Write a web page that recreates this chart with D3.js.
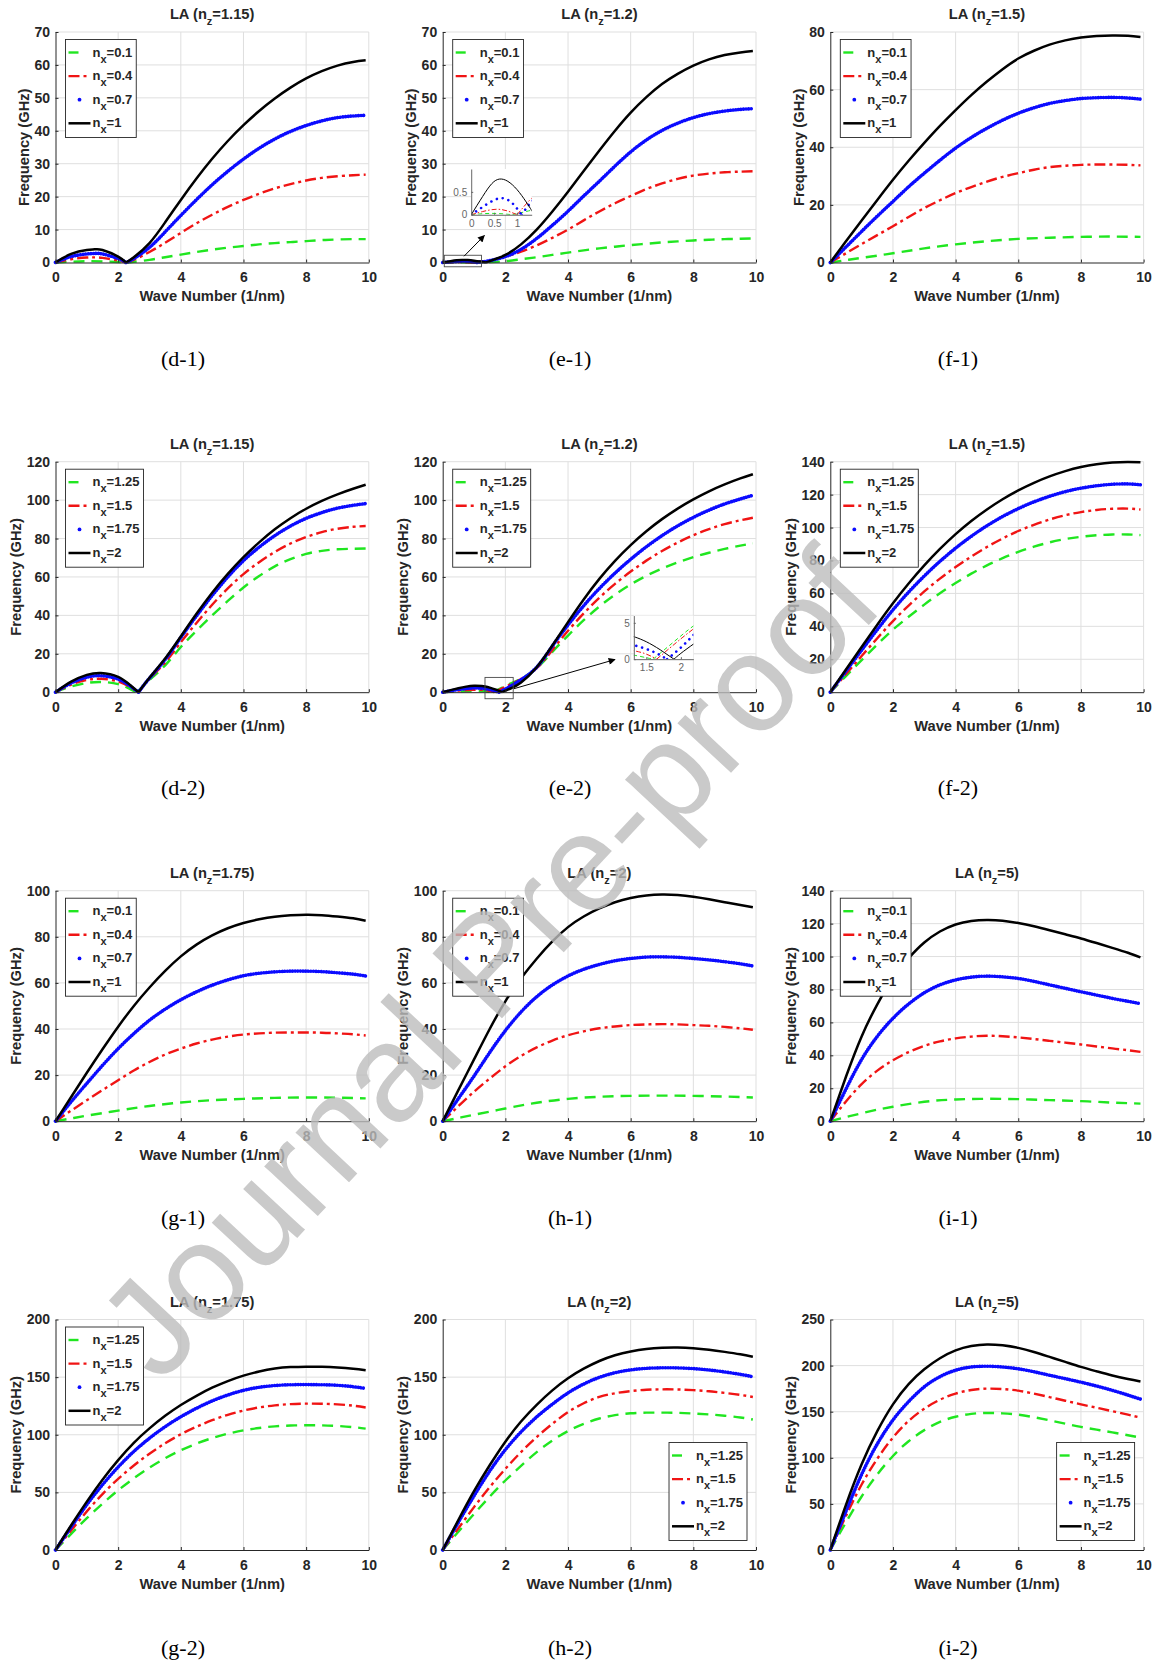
<!DOCTYPE html>
<html>
<head>
<meta charset="utf-8">
<script src="https://cdn.jsdelivr.net/npm/d3@7"></script>
<style>
  body { margin: 0; background: #fff; }
  svg { display: block; }
</style>
</head>
<body>
<script>
// ---------- tick labels ----------
const kTicks = [0, 2, 4, 6, 8, 10];
const fTicks70 = [0, 10, 20, 30, 40, 50, 60, 70];
const fTicks80 = [0, 20, 40, 60, 80];
const fTicks100 = [0, 20, 40, 60, 80, 100];
const fTicks120 = [0, 20, 40, 60, 80, 100, 120];
const fTicks140 = [0, 20, 40, 60, 80, 100, 120, 140];
const fTicks200 = [0, 50, 100, 150, 200];
const fTicks250 = [0, 50, 100, 150, 200, 250];

// ---------- legend categories ----------
const nxLow = ['0.1', '0.4', '0.7', '1'];
const nxHigh = ['1.25', '1.5', '1.75', '2'];

// ---------- LA branch, [wave number (1/nm), frequency (GHz)] ----------
// (d-1) nz = 1.15
const d1_01 = [[0,0],[0.5,0.25],[1,0.4],[1.5,0.35],[2,0.15],[2.25,0],[2.5,0.2],[3,0.8],[3.5,1.6],[4,2.4],[4.5,3.2],[5,3.9],[5.5,4.5],[6,5.0],[6.5,5.5],[7,5.9],[7.5,6.2],[8,6.5],[8.5,6.8],[9,7.0],[9.5,7.1],[9.9,7.1]];
const d1_04 = [[0,0],[0.5,1.0],[1,1.5],[1.25,1.55],[1.5,1.4],[2,0.6],[2.25,0],[2.5,0.8],[3,3.2],[3.5,6],[4,9],[4.5,11.9],[5,14.5],[5.5,16.9],[6,19.0],[6.5,20.9],[7,22.5],[7.5,23.8],[8,24.9],[8.5,25.7],[9,26.2],[9.5,26.5],[9.9,26.7]];
const d1_07 = [[0,0],[0.5,1.8],[1,2.6],[1.25,2.75],[1.5,2.6],[2,1.2],[2.25,0],[2.5,1.2],[3,4.6],[3.5,9.3],[4,14.3],[4.5,19.1],[5,23.6],[5.5,27.7],[6,31.4],[6.5,34.7],[7,37.5],[7.5,39.8],[8,41.6],[8.5,43],[9,44],[9.5,44.5],[9.9,44.7]];
const d1_10 = [[0,0],[0.5,2.6],[1,3.8],[1.25,4.0],[1.5,3.8],[2,1.8],[2.25,0],[2.5,1.6],[3,5.9],[3.5,12.2],[4,19],[4.5,25.5],[5,31.5],[5.5,36.9],[6,41.7],[6.5,46],[7,49.8],[7.5,53.1],[8,55.9],[8.5,58.1],[9,59.8],[9.5,60.9],[9.9,61.4]];

// (e-1) nz = 1.2
const e1_01 = [[0,0],[0.45,0.03],[0.9,0],[1.32,0.1],[1.5,0.15],[2,0.4],[2.5,1],[3,1.6],[3.5,2.3],[4,3],[4.5,3.7],[5,4.3],[5.5,4.8],[6,5.3],[6.5,5.7],[7,6.1],[7.5,6.4],[8,6.7],[8.5,6.9],[9,7.1],[9.5,7.2],[9.9,7.3]];
const e1_04 = [[0,0],[0.25,0.07],[0.55,0.12],[0.8,0.08],[1.0,0],[1.32,0.36],[1.5,0.6],[2,1.8],[2.5,3.3],[3,5.2],[3.5,7.5],[4,10],[4.5,12.8],[5,15.5],[5.5,18],[6,20.2],[6.5,22.3],[7,24],[7.5,25.4],[8,26.4],[8.5,27],[9,27.4],[9.5,27.6],[9.9,27.7]];
const e1_07 = [[0,0],[0.25,0.17],[0.5,0.32],[0.7,0.36],[0.9,0.25],[1.1,0],[1.32,0.29],[1.5,0.55],[2,1.8],[2.5,4],[3,7.3],[3.5,11.3],[4,15.6],[4.5,20.2],[5,24.7],[5.5,29.3],[6,33.6],[6.5,37.2],[7,40.1],[7.5,42.3],[8,44],[8.5,45.2],[9,46],[9.5,46.5],[9.9,46.7]];
const e1_10 = [[0,0],[0.25,0.4],[0.45,0.68],[0.62,0.78],[0.8,0.73],[1.0,0.55],[1.2,0.28],[1.38,0],[1.5,0.4],[2,2.3],[2.5,5.5],[3,10],[3.5,15.5],[4,21.5],[4.5,27.8],[5,34],[5.5,40],[6,45.5],[6.5,50.2],[7,54.2],[7.5,57.3],[8,59.8],[8.5,61.7],[9,63],[9.5,63.8],[9.9,64.2]];

// (f-1) nz = 1.5
const f1_01 = [[0,0],[0.5,0.8],[1,1.6],[2,3.2],[3,4.9],[4,6.3],[5,7.4],[6,8.2],[7,8.6],[8,8.9],[9,9.0],[9.9,8.9]];
const f1_04 = [[0,0],[0.5,3.2],[1,6.4],[1.5,9.5],[2,12.6],[2.5,15.8],[3,18.9],[3.5,21.6],[4,24.1],[4.5,26.2],[5,28.1],[5.5,29.7],[6,31],[6.5,32.2],[7,33.1],[7.5,33.6],[8,33.9],[8.5,34],[9,34],[9.5,33.9],[9.9,33.7]];
const f1_07 = [[0,0],[0.5,5.4],[1,10.8],[1.5,16.1],[2,21.2],[2.5,26.3],[3,31],[3.5,35.5],[4,39.7],[4.5,43.4],[5,46.6],[5.5,49.4],[6,51.8],[6.5,53.7],[7,55.2],[7.5,56.2],[8,56.9],[8.5,57.2],[9,57.3],[9.5,57.1],[9.9,56.7]];
const f1_10 = [[0,0],[0.5,7.4],[1,14.6],[1.5,21.7],[2,28.7],[2.5,35.3],[3,41.5],[3.5,47.4],[4,52.9],[4.5,58.1],[5,62.8],[5.5,67.1],[6,70.8],[6.5,73.5],[7,75.6],[7.5,77.1],[8,78.1],[8.5,78.6],[9,78.8],[9.5,78.7],[9.9,78.3]];

// (d-2) nz = 1.15
const d2_125 = [[0,0],[0.5,3],[1,4.8],[1.45,5.3],[2,4.2],[2.4,1.5],[2.6,0],[3,6.3],[3.5,14],[4,23.5],[4.5,32],[5,40],[5.5,47.5],[6,54.5],[6.5,60.5],[7,65.5],[7.5,69.3],[8,72],[8.5,73.6],[9,74.4],[9.5,74.7],[9.9,74.8]];
const d2_150 = [[0,0],[0.5,4],[1,6.4],[1.45,7],[2,5.6],[2.4,2.5],[2.65,0],[3,7],[3.5,15.5],[4,26],[4.5,36],[5,45.5],[5.5,54],[6,61.5],[6.5,67.7],[7,73],[7.5,77.4],[8,80.8],[8.5,83.3],[9,85.1],[9.5,86.1],[9.9,86.5]];
const d2_175 = [[0,0],[0.5,4.8],[1,7.8],[1.45,8.6],[2,6.8],[2.4,3],[2.65,0],[3,7.3],[3.5,17],[4,28.5],[4.5,39.7],[5,50.3],[5.5,60],[6,68.5],[6.5,75.5],[7,81.5],[7.5,86.5],[8,90.5],[8.5,93.5],[9,95.8],[9.5,97.3],[9.9,98.2]];
const d2_200 = [[0,0],[0.5,5.5],[1,9],[1.45,10],[2,8],[2.4,3.5],[2.65,0],[3,7.5],[3.5,17.5],[4,29],[4.5,40.8],[5,51.8],[5.5,61.6],[6,70.3],[6.5,78],[7,84.8],[7.5,90.6],[8,95.5],[8.5,99.6],[9,103],[9.5,105.9],[9.9,108]];

// (e-2) nz = 1.2
const e2_125 = [[0,0],[0.25,0.2],[0.5,0.4],[0.75,0.55],[1.0,0.6],[1.25,0.55],[1.35,0.5],[1.5,0.2],[1.6,0],[2.0,3.2],[2.2,4.7],[2.5,7],[3,12.5],[3.5,21],[4,29.5],[4.5,37.5],[5,44.6],[5.5,50.8],[6,56.1],[6.5,60.6],[7,64.4],[7.5,67.6],[8,70.3],[8.5,72.6],[9,74.6],[9.5,76.3],[9.9,77.5]];
const e2_150 = [[0,0],[0.25,0.4],[0.5,0.8],[0.75,1.1],[1.0,1.3],[1.25,1.2],[1.35,1.1],[1.5,0.7],[1.65,0],[2.0,2.8],[2.2,4.3],[2.5,6.8],[3,12.5],[3.5,22],[4,32],[4.5,41],[5,49.2],[5.5,56.4],[6,62.8],[6.5,68.5],[7,73.5],[7.5,77.9],[8,81.7],[8.5,84.9],[9,87.5],[9.5,89.5],[9.9,90.8]];
const e2_175 = [[0,0],[0.25,0.7],[0.5,1.4],[0.75,1.9],[1.0,2.2],[1.25,2.05],[1.35,1.85],[1.5,1.4],[1.65,0.8],[1.8,0],[2.0,1.6],[2.2,3.5],[2.5,6.5],[3,13],[3.5,24],[4,35],[4.5,45],[5,54],[5.5,62],[6,69.2],[6.5,75.7],[7,81.5],[7.5,86.6],[8,91],[8.5,94.8],[9,98],[9.5,100.6],[9.9,102.5]];
const e2_200 = [[0,0],[0.25,1.1],[0.5,2.1],[0.75,2.9],[1.0,3.3],[1.25,3.2],[1.35,3.0],[1.5,2.4],[1.7,1.3],[1.9,0],[2.0,0.8],[2.2,2.2],[2.5,5],[3,13],[3.5,24.3],[4,36.5],[4.5,48.3],[5,59],[5.5,68.4],[6,76.6],[6.5,83.8],[7,90.1],[7.5,95.6],[8,100.4],[8.5,104.6],[9,108.2],[9.5,111.3],[9.9,113.5]];

// (f-2) nz = 1.5
const f2_125 = [[0,0],[0.5,9.8],[1,19.5],[1.5,29],[2,38],[2.5,45.8],[3,53.2],[3.5,60.1],[4,66.3],[4.5,72],[5,77],[5.5,81.4],[6,85.2],[6.5,88.4],[7,91],[7.5,93],[8,94.4],[8.5,95.3],[9,95.8],[9.5,95.8],[9.9,95.4]];
const f2_150 = [[0,0],[0.5,11],[1,22],[1.5,32.8],[2,43.2],[2.5,52.6],[3,61.2],[3.5,69],[4,76],[4.5,82.4],[5,88.2],[5.5,93.4],[6,97.9],[6.5,101.7],[7,104.9],[7.5,107.5],[8,109.4],[8.5,110.7],[9,111.4],[9.5,111.5],[9.9,111]];
const f2_175 = [[0,0],[0.5,12.8],[1,25.5],[1.5,38],[2,50],[2.5,60.8],[3,70.6],[3.5,79.5],[4,87.5],[4.5,94.7],[5,101.1],[5.5,106.7],[6,111.5],[6.5,115.6],[7,119],[7.5,121.8],[8,123.9],[8.5,125.4],[9,126.3],[9.5,126.5],[9.9,126]];
const f2_200 = [[0,0],[0.5,13.8],[1,27.5],[1.5,41],[2,54],[2.5,66],[3,77],[3.5,87],[4,96],[4.5,104],[5,111],[5.5,117.2],[6,122.6],[6.5,127.2],[7,131.1],[7.5,134.3],[8,136.8],[8.5,138.5],[9,139.5],[9.5,139.8],[9.9,139.6]];

// (g-1) nz = 1.75
const g1_01 = [[0,0],[0.5,1.2],[1,2.4],[2,4.6],[3,6.6],[4,8.1],[5,9.1],[6,9.7],[7,10.1],[8,10.3],[9,10.2],[9.9,9.9]];
const g1_04 = [[0,0],[0.5,4.6],[1,9.1],[1.5,13.5],[2,17.8],[2.5,22],[3,25.7],[3.5,28.9],[4,31.5],[4.5,33.7],[5,35.4],[5.5,36.7],[6,37.6],[6.5,38.1],[7,38.4],[7.5,38.5],[8,38.5],[8.5,38.4],[9,38.1],[9.5,37.7],[9.9,37.2]];
const g1_07 = [[0,0],[0.5,8.4],[1,16.4],[1.5,24.2],[2,31.5],[2.5,38],[3,43.8],[3.5,48.6],[4,52.7],[4.5,56.1],[5,59],[5.5,61.3],[6,63.1],[6.5,64.2],[7,64.8],[7.5,65.1],[8,65.1],[8.5,64.9],[9,64.4],[9.5,63.8],[9.9,63]];
const g1_10 = [[0,0],[0.5,10.5],[1,21],[1.5,31.2],[2,41],[2.5,50],[3,58],[3.5,65.2],[4,71.5],[4.5,76.6],[5,80.6],[5.5,83.7],[6,86],[6.5,87.6],[7,88.7],[7.5,89.3],[8,89.6],[8.5,89.4],[9,88.8],[9.5,88],[9.9,87]];

// (h-1) nz = 2
const h1_01 = [[0,0],[0.5,1.4],[1,2.8],[2,5.5],[3,8],[4,9.7],[5,10.6],[6,11],[7,11.1],[8,11],[9,10.7],[9.9,10.3]];
const h1_04 = [[0,0],[0.5,6.5],[1,12.8],[1.5,18.5],[2,23.8],[2.5,28.3],[3,32],[3.5,35],[4,37.3],[4.5,39],[5,40.3],[5.5,41.1],[6,41.7],[6.5,42],[7,42.1],[7.5,42],[8,41.7],[8.5,41.4],[9,40.9],[9.5,40.3],[9.9,39.7]];
const h1_07 = [[0,0],[0.5,9.8],[1,19.6],[1.5,29.8],[2,39.3],[2.5,47.4],[3,54],[3.5,59.1],[4,63],[4.5,65.9],[5,68],[5.5,69.6],[6,70.6],[6.5,71.2],[7,71.3],[7.5,71.1],[8,70.6],[8.5,70],[9,69.2],[9.5,68.3],[9.9,67.3]];
const h1_10 = [[0,0],[0.5,13.5],[1,26.8],[1.5,40],[2,52],[2.5,62],[3,70.5],[3.5,78],[4,84.2],[4.5,88.8],[5,92.3],[5.5,95],[6,96.8],[6.5,97.9],[7,98.3],[7.5,98.1],[8,97.4],[8.5,96.3],[9,95],[9.5,93.8],[9.9,92.8]];

// (i-1) nz = 5
const i1_01 = [[0,0],[0.5,2.5],[1,4.8],[1.5,7],[2,8.8],[3,11.8],[4,13.2],[5,13.6],[6,13.4],[7,12.8],[8,12.2],[9,11.3],[9.9,10.7]];
const i1_04 = [[0,0],[0.5,12],[1,22.5],[1.5,30.7],[2,37],[2.5,42],[3,45.8],[3.5,48.5],[4,50.3],[4.5,51.4],[5,51.9],[5.5,51.6],[6,50.9],[6.5,49.9],[7,48.8],[7.5,47.7],[8,46.6],[8.5,45.4],[9,44.2],[9.5,43.1],[9.9,42.1]];
const i1_07 = [[0,0],[0.5,19.5],[1,37.5],[1.5,51.5],[2,62.5],[2.5,71.2],[3,78],[3.5,82.8],[4,85.8],[4.5,87.5],[5,88.1],[5.5,87.7],[6,86.7],[6.5,84.9],[7,82.8],[7.5,80.7],[8,78.6],[8.5,76.6],[9,74.6],[9.5,72.8],[9.9,71.4]];
const i1_10 = [[0,0],[0.5,27],[1,51.5],[1.5,71],[2,87],[2.5,99],[3,108.5],[3.5,115.2],[4,119.5],[4.5,121.6],[5,122.2],[5.5,121.8],[6,120.4],[6.5,118.4],[7,116],[7.5,113.5],[8,111],[8.5,108.2],[9,105.3],[9.5,102.3],[9.9,99.5]];

// (g-2) nz = 1.75
const g2_125 = [[0,0],[0.5,14],[1,27.6],[1.5,40.2],[2,51.8],[2.5,62.2],[3,71.5],[3.5,79.6],[4,86.5],[4.5,92.3],[5,97.1],[5.5,100.9],[6,103.8],[6.5,105.9],[7,107.3],[7.5,108],[8,108.2],[8.5,108.1],[9,107.6],[9.5,106.6],[9.9,105.3]];
const g2_150 = [[0,0],[0.5,17],[1,33.5],[1.5,48.5],[2,61.7],[2.5,73.3],[3,83.6],[3.5,92.6],[4,100.4],[4.5,107],[5,112.6],[5.5,117.3],[6,121],[6.5,123.7],[7,125.5],[7.5,126.6],[8,127],[8.5,126.9],[9,126.4],[9.5,125.2],[9.9,123.6]];
const g2_175 = [[0,0],[0.5,20],[1,39.3],[1.5,56.6],[2,72],[2.5,85.5],[3,97],[3.5,107],[4,115.6],[4.5,123],[5,129.3],[5.5,134.5],[6,138.5],[6.5,141.2],[7,142.7],[7.5,143.4],[8,143.5],[8.5,143.4],[9,142.9],[9.5,141.7],[9.9,140.2]];
const g2_200 = [[0,0],[0.5,21.5],[1,42],[1.5,61],[2,78],[2.5,93],[3,105.5],[3.5,116.4],[4,125.8],[4.5,133.8],[5,140.8],[5.5,146.6],[6,151.3],[6.5,154.9],[7,157.4],[7.5,158.7],[8,159.1],[8.5,158.9],[9,158.3],[9.5,157.2],[9.9,155.9]];

// (h-2) nz = 2
const h2_125 = [[0,0],[0.5,15.8],[1,31.3],[1.5,46.3],[2,60.3],[2.5,73],[3,84.9],[3.5,95],[4,103.2],[4.5,109.5],[5,114.1],[5.5,117],[6,118.6],[6.5,119.2],[7,119.2],[7.5,119],[8,118.4],[8.5,117.6],[9,116.5],[9.5,115],[9.9,113.2]];
const h2_150 = [[0,0],[0.5,18.8],[1,37.2],[1.5,54.5],[2,70.4],[2.5,85],[3,98],[3.5,109.5],[4,119.7],[4.5,127.3],[5,132.8],[5.5,136],[6,137.9],[6.5,139],[7,139.4],[7.5,139.3],[8,138.7],[8.5,137.7],[9,136.3],[9.5,134.6],[9.9,132.8]];
const h2_175 = [[0,0],[0.5,24],[1,47],[1.5,68.5],[2,87],[2.5,102.5],[3,115.5],[3.5,126.5],[4,136.3],[4.5,144],[5,149.8],[5.5,153.8],[6,156.3],[6.5,157.6],[7,158.1],[7.5,158],[8,157.4],[8.5,156.2],[9,154.5],[9.5,152.4],[9.9,150.3]];
const h2_200 = [[0,0],[0.5,26],[1,51],[1.5,73.5],[2,94],[2.5,111.5],[3,126],[3.5,138.5],[4,149],[4.5,157.3],[5,164],[5.5,169],[6,172.3],[6.5,174.4],[7,175.4],[7.5,175.6],[8,175],[8.5,173.7],[9,171.9],[9.5,169.8],[9.9,167.7]];

// (i-2) nz = 5
const i2_125 = [[0,0],[0.5,30],[1,58],[1.5,82],[2,102],[2.5,118],[3,130],[3.5,139],[4,144.5],[4.5,147.7],[5,148.6],[5.5,148.2],[6,146.8],[6.5,144],[7,140.6],[7.5,137],[8,133.5],[8.5,130.5],[9,127.6],[9.5,124.5],[9.9,121.8]];
const i2_150 = [[0,0],[0.5,37],[1,71],[1.5,99],[2,122],[2.5,140],[3,153.3],[3.5,163],[4,169.6],[4.5,173.5],[5,175],[5.5,174.6],[6,172.8],[6.5,169.6],[7,165.8],[7.5,161.9],[8,158],[8.5,154.3],[9,150.6],[9.5,146.8],[9.9,143.5]];
const i2_175 = [[0,0],[0.5,42],[1,82],[1.5,115],[2,141],[2.5,161],[3,177],[3.5,188],[4,195],[4.5,198.5],[5,199.3],[5.5,198.5],[6,196.5],[6.5,193.3],[7,189.5],[7.5,185.8],[8,182],[8.5,177.8],[9,173.2],[9.5,168],[9.9,163.6]];
const i2_200 = [[0,0],[0.5,49],[1,93],[1.5,129],[2,158],[2.5,180],[3,196],[3.5,208],[4,216.5],[4.5,221.2],[5,223],[5.5,222],[6,219.2],[6.5,214.7],[7,209.4],[7.5,204],[8,198.6],[8.5,193.8],[9,189.3],[9.5,185.5],[9.9,182.8]];

// ---------- panel set-up ----------
const panels = [
  { tag: '(d-1)', nz: '1.15', yMax: 70,  yTicks: fTicks70,  nx: nxLow,  series: [d1_01, d1_04, d1_07, d1_10], legend: 'nw' },
  { tag: '(e-1)', nz: '1.2',  yMax: 70,  yTicks: fTicks70,  nx: nxLow,  series: [e1_01, e1_04, e1_07, e1_10], legend: 'nw',
    zoom: { box: [0.05, 1.24, -1.3, 2.2], arrow: [0.68, 1.9, 1.33, 8.2], frame: [0.91, 2.84, 14.5, 28.4],
            xlim: [0, 1.32], ylim: [0, 1], xticks: [0, 0.5, 1], yticks: [0, 0.5] } },
  { tag: '(f-1)', nz: '1.5',  yMax: 80,  yTicks: fTicks80,  nx: nxLow,  series: [f1_01, f1_04, f1_07, f1_10], legend: 'nw' },
  { tag: '(d-2)', nz: '1.15', yMax: 120, yTicks: fTicks120, nx: nxHigh, series: [d2_125, d2_150, d2_175, d2_200], legend: 'nw' },
  { tag: '(e-2)', nz: '1.2',  yMax: 120, yTicks: fTicks120, nx: nxHigh, series: [e2_125, e2_150, e2_175, e2_200], legend: 'nw',
    zoom: { box: [1.35, 2.25, -3.4, 7.7], arrow: [2.27, 1.8, 5.5, 17], frame: [6.1, 8.0, 17.2, 39.9],
            xlim: [1.32, 2.18], ylim: [0, 6], xticks: [1.5, 2], yticks: [0, 5] } },
  { tag: '(f-2)', nz: '1.5',  yMax: 140, yTicks: fTicks140, nx: nxHigh, series: [f2_125, f2_150, f2_175, f2_200], legend: 'nw' },
  { tag: '(g-1)', nz: '1.75', yMax: 100, yTicks: fTicks100, nx: nxLow,  series: [g1_01, g1_04, g1_07, g1_10], legend: 'nw' },
  { tag: '(h-1)', nz: '2',    yMax: 100, yTicks: fTicks100, nx: nxLow,  series: [h1_01, h1_04, h1_07, h1_10], legend: 'nw' },
  { tag: '(i-1)', nz: '5',    yMax: 140, yTicks: fTicks140, nx: nxLow,  series: [i1_01, i1_04, i1_07, i1_10], legend: 'nw' },
  { tag: '(g-2)', nz: '1.75', yMax: 200, yTicks: fTicks200, nx: nxHigh, series: [g2_125, g2_150, g2_175, g2_200], legend: 'nw' },
  { tag: '(h-2)', nz: '2',    yMax: 200, yTicks: fTicks200, nx: nxHigh, series: [h2_125, h2_150, h2_175, h2_200], legend: 'se' },
  { tag: '(i-2)', nz: '5',    yMax: 250, yTicks: fTicks250, nx: nxHigh, series: [i2_125, i2_150, i2_175, i2_200], legend: 'se' }
];

// ---------- layout & styles ----------
const colLeft = [55.5, 442.7, 830.3];
const rowTop = [32, 461.7, 890.7, 1319.5];
const plotW = 313.3, plotH = 230.5;
const tagX = [183, 570, 958];
const tagY = [360, 789, 1219, 1649];

const FONT = '"Liberation Sans", Arial, Helvetica, sans-serif';
const SERIF = '"Liberation Serif", "Times New Roman", serif';
const INK = '#262626';
const GRID = '#dfdfdf';
const LABEL_SIZE = 14.7;

const styles = [
  { stroke: '#20e620', width: 2.4, dash: '11,7',     cap: 'butt',  inDash: '4,3',       inWidth: 1 },
  { stroke: '#f01414', width: 2.4, dash: '11,4,3,4', cap: 'butt',  inDash: '5,2,1.5,2', inWidth: 1 },
  { stroke: '#0b0bff', width: 3.6, dash: '0.01,2.6', cap: 'round', inDash: '0.01,6',    inWidth: 2.6 },
  { stroke: '#000000', width: 2.5, dash: null,       cap: 'butt',  inDash: null,        inWidth: 1 }
];

const fmt = d3.format('~g');

const svg = d3.select('body').append('svg')
  .attr('width', 1161).attr('height', 1665)
  .attr('viewBox', '0 0 1161 1665');
svg.append('rect').attr('width', 1161).attr('height', 1665).attr('fill', '#fff');

const defs = svg.append('defs');
defs.append('marker')
  .attr('id', 'arrowHead').attr('viewBox', '0 0 10 10')
  .attr('refX', 9).attr('refY', 5)
  .attr('markerWidth', 9).attr('markerHeight', 7)
  .attr('markerUnits', 'userSpaceOnUse')
  .attr('orient', 'auto')
  .append('path').attr('d', 'M0,0 L10,5 L0,10 Z').attr('fill', '#000');

// split a branch at interior zero crossings so each lobe keeps its sharp cusp
function lobes(pts) {
  const out = [];
  let cur = [pts[0]];
  for (let i = 1; i < pts.length; i++) {
    cur.push(pts[i]);
    if (pts[i][1] === 0 && i < pts.length - 1) { out.push(cur); cur = [pts[i]]; }
  }
  out.push(cur);
  return out;
}

function curvePath(pts, x, y) {
  const line = d3.line().x(d => x(d[0])).y(d => y(d[1])).curve(d3.curveNatural);
  return lobes(pts).map(s => line(s)).join('');
}

// "n" + subscript + rest
function subLabel(textSel, main, sub, rest, subSize, shift) {
  textSel.append('tspan').text(main);
  textSel.append('tspan').attr('dy', shift).attr('font-size', subSize).text(sub);
  textSel.append('tspan').attr('dy', -shift).text(rest);
}

function drawLegend(g, L, T, R, B, labels, pos) {
  const lg = g.append('g');
  const rowGap = 23.6, firstRow = 13;
  let maxW = 0;
  labels.forEach((lab, k) => {
    const cy = firstRow + k * rowGap;
    const st = styles[k];
    if (k === 2) {
      lg.append('circle').attr('cx', 14).attr('cy', cy).attr('r', 1.9).attr('fill', st.stroke);
    } else {
      lg.append('line')
        .attr('x1', 3).attr('x2', 25).attr('y1', cy).attr('y2', cy)
        .attr('stroke', st.stroke).attr('stroke-width', st.width)
        .attr('stroke-dasharray', k === 0 ? '10,20' : st.dash);
    }
    const t = lg.append('text')
      .attr('x', 27).attr('y', cy + 4)
      .attr('font-family', FONT).attr('font-size', 13).attr('font-weight', 'bold')
      .attr('fill', INK);
    subLabel(t, 'n', 'x', '=' + lab, 11, 6);
    maxW = Math.max(maxW, t.node().getComputedTextLength());
  });
  const boxW = 27 + maxW + 4, boxH = 98;
  lg.insert('rect', ':first-child')
    .attr('x', 0).attr('y', 0).attr('width', boxW).attr('height', boxH)
    .attr('fill', '#fff').attr('stroke', INK).attr('stroke-width', 0.9);
  const ox = pos === 'se' ? R - 9 - boxW : L + 10;
  const oy = pos === 'se' ? B - 9.5 - boxH : T + 7.5;
  lg.attr('transform', `translate(${ox},${oy})`);
}

function drawZoom(g, x, y, z, series, id) {
  // marker rectangle and arrow in the main axes
  g.append('rect')
    .attr('x', x(z.box[0])).attr('y', y(z.box[3]))
    .attr('width', x(z.box[1]) - x(z.box[0])).attr('height', y(z.box[2]) - y(z.box[3]))
    .attr('fill', 'none').attr('stroke', '#4a4a4a').attr('stroke-width', 0.9);
  g.append('line')
    .attr('x1', x(z.arrow[0])).attr('y1', y(z.arrow[1]))
    .attr('x2', x(z.arrow[2])).attr('y2', y(z.arrow[3]))
    .attr('stroke', '#000').attr('stroke-width', 1)
    .attr('marker-end', 'url(#arrowHead)');

  // inset axes
  const x0 = x(z.frame[0]), x1 = x(z.frame[1]);
  const yb = y(z.frame[2]), yt = y(z.frame[3]);
  const ix = d3.scaleLinear().domain(z.xlim).range([x0, x1]);
  const iy = d3.scaleLinear().domain(z.ylim).range([yb, yt]);
  g.append('rect').attr('x', x0).attr('y', yt).attr('width', x1 - x0).attr('height', yb - yt).attr('fill', '#fff');
  defs.append('clipPath').attr('id', id)
    .append('rect').attr('x', x0).attr('y', yt - 1).attr('width', x1 - x0).attr('height', yb - yt + 1);
  const cg = g.append('g').attr('clip-path', `url(#${id})`);
  series.forEach((s, k) => {
    const st = styles[k];
    cg.append('path')
      .attr('d', curvePath(s, ix, iy))
      .attr('fill', 'none').attr('stroke', st.stroke)
      .attr('stroke-width', st.inWidth)
      .attr('stroke-linecap', st.cap)
      .attr('stroke-dasharray', st.inDash);
  });
  const axB = d3.axisBottom(ix).tickValues(z.xticks).tickFormat(fmt).tickSizeInner(-2).tickSizeOuter(0).tickPadding(5);
  const axL = d3.axisLeft(iy).tickValues(z.yticks).tickFormat(fmt).tickSizeInner(-2).tickSizeOuter(0).tickPadding(4);
  [g.append('g').attr('transform', `translate(0,${yb})`).call(axB),
   g.append('g').attr('transform', `translate(${x0},0)`).call(axL)].forEach(a => {
    a.attr('font-family', FONT).attr('font-size', 10).style('color', '#666');
    a.selectAll('.domain').attr('stroke-width', 1);
  });
}

panels.forEach((p, i) => {
  const c = i % 3, r = Math.floor(i / 3);
  const L = colLeft[c], T = rowTop[r], R = L + plotW, B = T + plotH;
  const x = d3.scaleLinear().domain([0, 10]).range([L, R]);
  const y = d3.scaleLinear().domain([0, p.yMax]).range([B, T]);
  const g = svg.append('g');

  // grid
  g.append('g').selectAll('line').data(kTicks.filter(v => v > 0)).join('line')
    .attr('x1', d => x(d)).attr('x2', d => x(d)).attr('y1', T).attr('y2', B)
    .attr('stroke', GRID).attr('stroke-width', 1);
  g.append('g').selectAll('line').data(p.yTicks.filter(v => v > 0)).join('line')
    .attr('x1', L).attr('x2', R).attr('y1', d => y(d)).attr('y2', d => y(d))
    .attr('stroke', GRID).attr('stroke-width', 1);

  // curves: green, red, blue, black
  p.series.forEach((s, k) => {
    const st = styles[k];
    g.append('path')
      .attr('d', curvePath(s, x, y))
      .attr('fill', 'none').attr('stroke', st.stroke)
      .attr('stroke-width', st.width)
      .attr('stroke-linecap', st.cap)
      .attr('stroke-linejoin', 'round')
      .attr('stroke-dasharray', st.dash);
  });

  // axes
  const axX = g.append('g').attr('transform', `translate(0,${B})`)
    .call(d3.axisBottom(x).tickValues(kTicks).tickFormat(fmt).tickSizeInner(-3).tickSizeOuter(0).tickPadding(10));
  const axY = g.append('g').attr('transform', `translate(${L},0)`)
    .call(d3.axisLeft(y).tickValues(p.yTicks).tickFormat(fmt).tickSizeInner(-3).tickSizeOuter(0).tickPadding(5.5));
  [axX, axY].forEach(a => {
    a.attr('font-family', FONT).attr('font-size', 14).attr('font-weight', 'bold').style('color', INK);
    a.selectAll('.domain').attr('stroke-width', 1);
  });

  let tickW = 0;
  axY.selectAll('text').each(function () { tickW = Math.max(tickW, this.getComputedTextLength()); });

  // axis titles
  g.append('text')
    .attr('x', (L + R) / 2).attr('y', B + 38.7)
    .attr('text-anchor', 'middle')
    .attr('font-family', FONT).attr('font-size', LABEL_SIZE).attr('font-weight', 'bold').attr('fill', INK)
    .text('Wave Number (1/nm)');
  const yl = L - 5.5 - tickW - 5.5;
  g.append('text')
    .attr('transform', `translate(${yl},${(T + B) / 2}) rotate(-90)`)
    .attr('text-anchor', 'middle')
    .attr('font-family', FONT).attr('font-size', LABEL_SIZE).attr('font-weight', 'bold').attr('fill', INK)
    .text('Frequency (GHz)');

  // panel title
  const tt = g.append('text')
    .attr('x', (L + R) / 2).attr('y', T - 13)
    .attr('text-anchor', 'middle')
    .attr('font-family', FONT).attr('font-size', LABEL_SIZE).attr('font-weight', 'bold').attr('fill', INK);
  subLabel(tt, 'LA (n', 'z', '=' + p.nz + ')', 11, 6);

  // legend
  drawLegend(g, L, T, R, B, p.nx, p.legend);

  // magnified view
  if (p.zoom) drawZoom(g, x, y, p.zoom, p.series, 'inset' + i);

  // sub-figure caption
  svg.append('text')
    .attr('x', tagX[c]).attr('y', tagY[r] + 6)
    .attr('text-anchor', 'middle')
    .attr('font-family', SERIF).attr('font-size', 22).attr('fill', '#000')
    .text(p.tag);
});

// manuscript watermark
svg.append('text')
  .attr('transform', 'translate(488,963) rotate(-47)')
  .attr('text-anchor', 'middle')
  .attr('dominant-baseline', 'central')
  .attr('font-family', FONT).attr('font-size', 138)
  .attr('fill', '#bdbdbd').attr('opacity', 0.8)
  .text('Journal Pre-proof');
</script>
</body>
</html>
